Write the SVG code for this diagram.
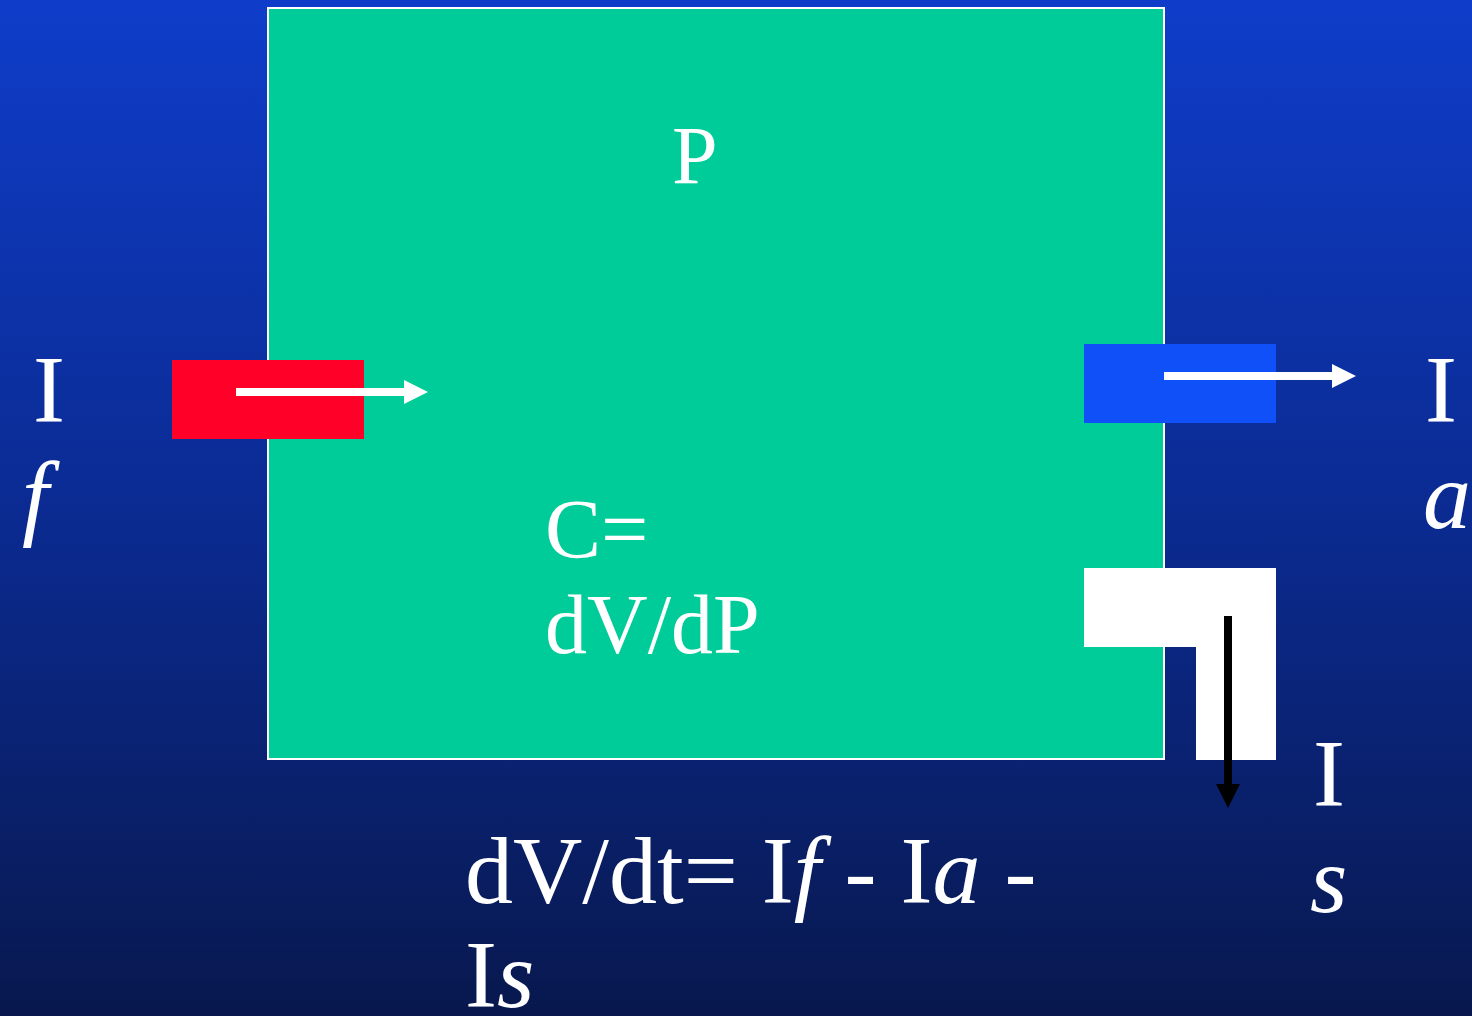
<svg xmlns="http://www.w3.org/2000/svg" width="1472" height="1016" viewBox="0 0 1472 1016">
<defs>
<linearGradient id="bg" x1="0" y1="0" x2="0" y2="1">
<stop offset="0" stop-color="#0F3DCA"/>
<stop offset="0.5" stop-color="#0B2B92"/>
<stop offset="1" stop-color="#08184E"/>
</linearGradient>
</defs>
<style>
text{font-family:"Liberation Serif","Times New Roman",serif;fill:#fff}
.big{font-size:96px}
.mid{font-size:84px}
.it{font-style:italic}
</style>
<rect x="0" y="0" width="1472" height="1016" fill="url(#bg)"/>
<g id="chamber">
<rect x="268" y="8" width="896" height="751" fill="#00CC99" stroke="#fff" stroke-width="2"/>
<text x="672" y="183" style="font-size:82px">P</text>
<text class="mid" x="545" y="558">C=</text>
<text class="mid" x="545" y="653">dV/dP</text>
</g>
<g id="inflow">
<rect x="172" y="360" width="192" height="79" fill="#FF0028"/>
</g>
<g id="outflow-a">
<rect x="1084" y="344" width="192" height="79" fill="#1050F8"/>
</g>
<g id="outflow-s">
<path d="M1084 568H1276V760H1196V647H1084Z" fill="#fff"/>
</g>
<g id="connectors">
<rect x="236" y="388" width="169" height="8" fill="#fff"/>
<polygon points="404,380 428,392 404,404" fill="#fff"/>
<rect x="1164" y="372" width="169" height="8" fill="#fff"/>
<polygon points="1332,364 1356,376 1332,388" fill="#fff"/>
<rect x="1224" y="616" width="8" height="169" fill="#000"/>
<polygon points="1216,784 1240,784 1228,808" fill="#000"/>
</g>
<g id="label-if">
<text class="big" x="33" y="422">I</text>
<text class="big it" x="22" y="528">f</text>
</g>
<g id="label-ia">
<text class="big" x="1425" y="422">I</text>
<text class="big it" x="1423" y="528">a</text>
</g>
<g id="label-is">
<text class="big" x="1313" y="806">I</text>
<text class="big it" x="1310" y="912">s</text>
</g>
<g id="equation">
<text class="big" x="465" y="903">dV/dt= I<tspan class="it">f</tspan> - I<tspan class="it">a</tspan> -</text>
<text class="big" x="465" y="1007">I<tspan class="it">s</tspan></text>
</g>
</svg>
